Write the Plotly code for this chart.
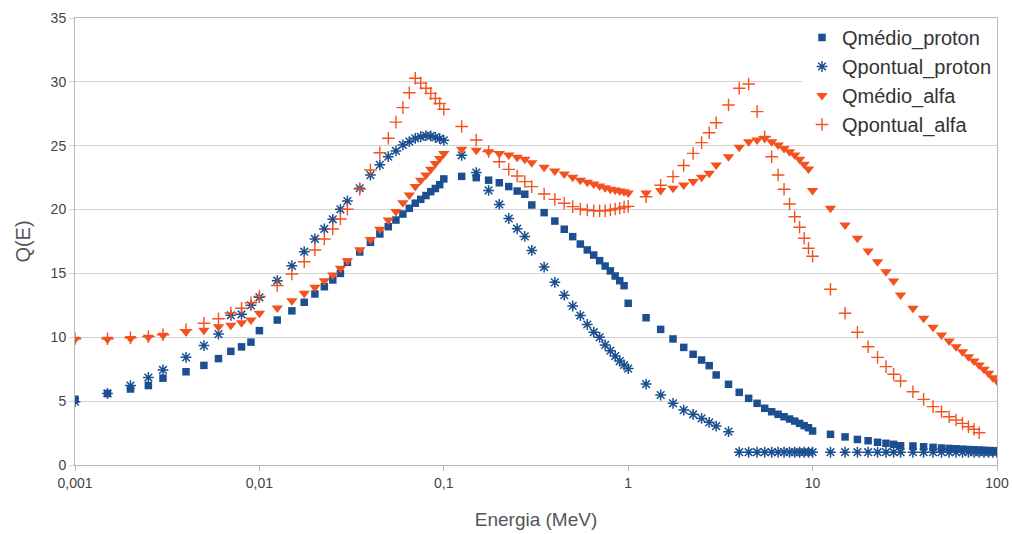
import plotly.graph_objects as go

# Energy grid (MeV)
energia = [
    0.001, 0.0015, 0.002, 0.0025, 0.003, 0.004, 0.005, 0.006, 0.007, 0.008, 0.009,
    0.01, 0.0125, 0.015, 0.0175, 0.02, 0.0225, 0.025, 0.0275, 0.03, 0.035, 0.04, 0.045,
    0.05, 0.055, 0.06, 0.065, 0.07, 0.075, 0.08, 0.085, 0.09, 0.095,
    0.1, 0.125, 0.15, 0.175, 0.2, 0.225, 0.25, 0.275, 0.3, 0.35, 0.4, 0.45,
    0.5, 0.55, 0.6, 0.65, 0.7, 0.75, 0.8, 0.85, 0.9, 0.95,
    1, 1.25, 1.5, 1.75, 2, 2.25, 2.5, 2.75, 3, 3.5, 4, 4.5,
    5, 5.5, 6, 6.5, 7, 7.5, 8, 8.5, 9, 9.5,
    10, 12.5, 15, 17.5, 20, 22.5, 25, 27.5, 30, 35, 40, 45,
    50, 55, 60, 65, 70, 75, 80, 85, 90, 95,
    100,
]

qmedio_proton = [
    5.15, 5.6, 5.95, 6.22, 6.8, 7.3, 7.8, 8.33, 8.9, 9.25, 9.62,
    10.52, 11.35, 12.07, 12.74, 13.39, 13.96, 14.49, 15.0, 15.87, 16.68, 17.44, 18.09,
    18.66, 19.18, 19.65, 20.1, 20.5, 20.8, 21.1, 21.4, 21.65, 21.95,
    22.4, 22.6, 22.5, 22.3, 22.1, 21.8, 21.45, 21.2, 20.36, 19.76, 19.1, 18.46,
    17.88, 17.3, 16.84, 16.44, 16.0, 15.58, 15.2, 14.8, 14.43, 14.04,
    12.66, 11.53, 10.62, 9.87, 9.21, 8.67, 8.22, 7.78, 7.05, 6.32, 5.69, 5.22,
    4.83, 4.44, 4.17, 3.97, 3.78, 3.6, 3.44, 3.26, 3.08, 2.92,
    2.66, 2.4, 2.2, 2.0, 1.9, 1.78, 1.7, 1.62, 1.51, 1.49, 1.43, 1.38,
    1.33, 1.3, 1.27, 1.24, 1.21, 1.19, 1.17, 1.15, 1.13, 1.11,
    1.08,
]

qpontual_proton = [
    4.96, 5.6, 6.22, 6.85, 7.44, 8.43, 9.35, 10.25, 11.72, 11.8, 12.5,
    13.13, 14.43, 15.6, 16.7, 17.7, 18.48, 19.24, 20.02, 20.67, 21.67, 22.7, 23.5,
    24.14, 24.59, 25.06, 25.32, 25.58, 25.7, 25.79, 25.77, 25.65, 25.55,
    25.42, 24.25, 22.9, 21.5, 20.4, 19.3, 18.5, 17.9, 16.8, 15.5, 14.3, 13.3,
    12.45, 11.7, 11.0, 10.4, 10.0, 9.4, 8.95, 8.53, 8.14, 7.83,
    7.55, 6.34, 5.48, 4.83, 4.3, 3.97, 3.65, 3.34, 3.05, 2.61, 1.0, 1.0,
    1.0, 1.0, 1.0, 1.0, 1.0, 1.0, 1.0, 1.0, 1.0, 1.0,
    1.0, 1.0, 1.0, 1.0, 1.0, 1.0, 1.0, 1.0, 1.0, 1.0, 1.0, 1.0,
    1.0, 1.0, 1.0, 1.0, 1.0, 1.0, 1.0, 1.0, 1.0, 1.0,
    1.0,
]

qmedio_alfa = [
    9.84, 9.84, 9.9, 10.0, 10.15, 10.42, 10.55, 10.83, 10.95, 11.13, 11.35,
    11.88, 12.3, 12.87, 13.44, 13.91, 14.43, 14.88, 15.4, 16.0, 16.85, 17.65, 18.45,
    19.18, 19.84, 20.54, 21.14, 21.8, 22.3, 22.7, 23.15, 23.6, 24.0,
    24.4, 24.72, 24.64, 24.53, 24.4, 24.27, 24.1, 23.94, 23.67, 23.31, 23.02, 22.79,
    22.53, 22.3, 22.14, 22.0, 21.85, 21.7, 21.6, 21.53, 21.45, 21.4,
    21.3, 21.3, 21.5, 21.66, 21.92, 22.19, 22.53, 22.84, 23.49, 24.14, 24.88, 25.32,
    25.45, 25.58, 25.32, 25.06, 24.79, 24.53, 24.27, 23.94, 23.55, 23.18,
    21.5, 20.1, 18.8, 17.75, 16.76, 15.92, 15.14, 14.41, 13.31, 12.27, 11.49, 10.78,
    10.18, 9.71, 9.26, 8.87, 8.48, 8.14, 7.83, 7.49, 7.18, 6.84,
    6.58,
]

# Qpontual_alfa stops at 80 MeV
energia_pontual_alfa = energia[:97]
qpontual_alfa = [
    9.88, 9.88, 9.95, 10.05, 10.2, 10.6, 11.1, 11.45, 11.9, 12.27, 12.7,
    13.2, 14.05, 14.96, 15.92, 16.84, 17.7, 18.48, 19.26, 20.02, 21.6, 23.1, 24.45,
    25.58, 26.85, 27.98, 29.15, 30.28, 29.9, 29.5, 29.1, 28.7, 28.3,
    27.85, 26.5, 25.45, 24.55, 23.75, 23.15, 22.63, 22.19, 21.8, 21.22, 20.8, 20.49,
    20.23, 20.05, 19.97, 19.91, 19.91, 19.91, 19.97, 20.05, 20.1, 20.2,
    20.25, 21.0, 21.9, 22.58, 23.45, 24.4, 25.24, 26.02, 26.8, 28.19, 29.5, 29.83,
    27.67, 25.7, 24.14, 22.71, 21.59, 20.44, 19.44, 18.61, 17.75, 16.97,
    16.34, 13.76, 11.88, 10.39, 9.26, 8.43, 7.7, 7.1, 6.58, 5.74, 5.14, 4.57,
    4.17, 3.78, 3.52, 3.26, 3.0, 2.8, 2.53,
]

x_tickvals = [0.001, 0.01, 0.1, 1, 10, 100]
x_ticktext = ["0,001", "0,01", "0,1", "1", "10", "100"]
y_tickvals = [0, 5, 10, 15, 20, 25, 30, 35]

BLUE = "#1b4f91"
ORANGE = "#f4511e"
FONT = "Liberation Sans, Arial, sans-serif"

fig = go.Figure()
fig.add_trace(go.Scatter(
    x=energia, y=qmedio_proton, mode="markers", name="Qmédio_proton", legendgroup="a",
    marker=dict(symbol="square", size=7.5, color=BLUE),
))
fig.add_trace(go.Scatter(
    x=energia, y=qpontual_proton, mode="markers", name="Qpontual_proton", legendgroup="b",
    marker=dict(symbol="asterisk-open", size=9, color=BLUE, line=dict(color=BLUE, width=1.5)),
))
fig.add_trace(go.Scatter(
    x=energia, y=qmedio_alfa, mode="markers", name="Qmédio_alfa", legendgroup="c",
    marker=dict(symbol="triangle-down", size=10, color=ORANGE),
))
fig.add_trace(go.Scatter(
    x=energia_pontual_alfa, y=qpontual_alfa, mode="markers", name="Qpontual_alfa", legendgroup="d",
    marker=dict(symbol="cross-thin-open", size=9, color=ORANGE, line=dict(color=ORANGE, width=1.4)),
))

fig.update_layout(
    width=1014, height=534,
    margin=dict(l=75, r=17, t=18, b=69, autoexpand=False),
    paper_bgcolor="white", plot_bgcolor="white",
    font=dict(family=FONT, color="#444444"),
    showlegend=True,
    legend=dict(
        x=1, xanchor="right", y=1, yanchor="top",
        bgcolor="white", borderwidth=0,
        font=dict(size=20, color="#333333", family=FONT),
        tracegroupgap=0, itemwidth=30,
    ),
    xaxis=dict(
        type="log", range=[-3, 2], automargin=False,
        tickvals=x_tickvals, ticktext=x_ticktext,
        tickfont=dict(size=14, color="#444444"),
        showgrid=False, zeroline=False,
        showline=True, linecolor="#b8b8b8", linewidth=1, mirror=True,
        ticks="outside", ticklen=5, tickcolor="#b8b8b8",
        title=dict(text="Energia (MeV)", font=dict(size=19, color="#555555"), standoff=22),
    ),
    yaxis=dict(
        range=[0, 35], tickvals=y_tickvals, automargin=False,
        tickfont=dict(size=14, color="#444444"),
        showgrid=True, gridcolor="#d3d3d3", gridwidth=1, zeroline=False,
        showline=True, linecolor="#b8b8b8", linewidth=1, mirror=True,
        ticks="outside", ticklen=5, tickcolor="#d3d3d3",
        title=dict(text="Q(E)", font=dict(size=20, color="#555555"), standoff=14),
    ),
)

fig.write_html("out.html")
